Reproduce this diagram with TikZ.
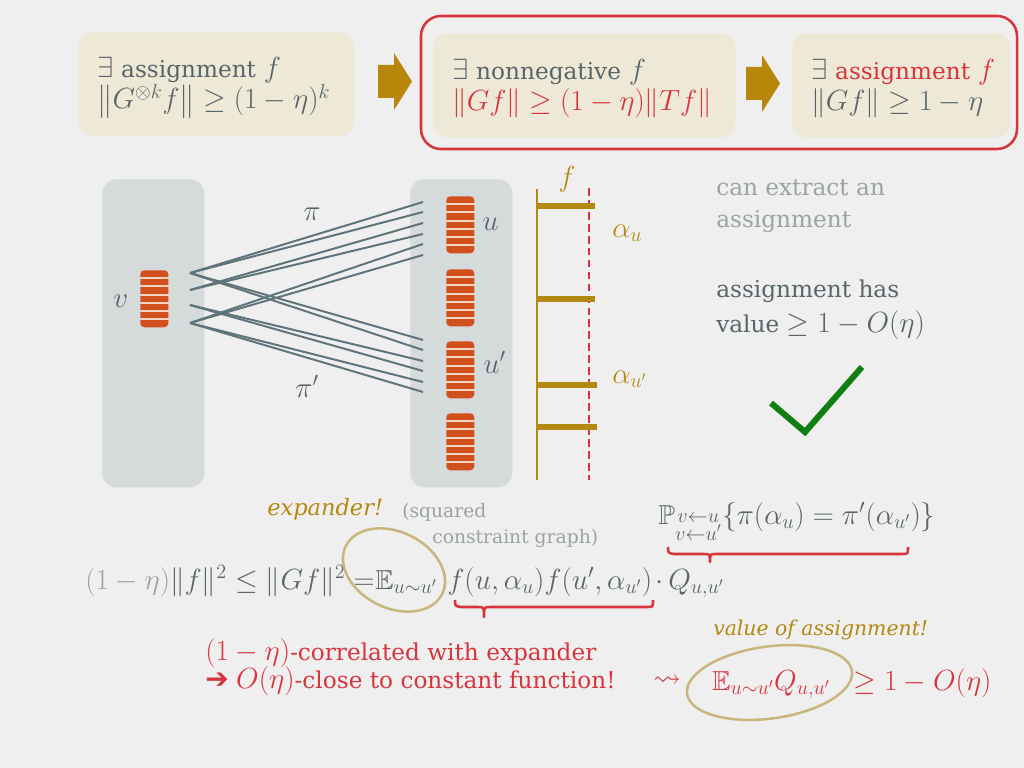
\documentclass[tikz,border=0pt]{standalone}
\usepackage{amsmath}
\usepackage{amssymb}
\usepackage{fontspec}
\setmainfont{DejaVu Serif}
\newfontfamily\arrowfont{DejaVu Sans}
\usetikzlibrary{calc}

\definecolor{slidebg}{HTML}{EFEFEF}
\definecolor{boxbeige}{HTML}{EEE8D6}
\definecolor{panelgray}{HTML}{D5DBDB}
\definecolor{ladderorange}{HTML}{D24F1E}
\definecolor{stripecol}{HTML}{F1D5C0}
\definecolor{edgecol}{HTML}{5E737A}
\definecolor{textgray}{HTML}{586569}
\definecolor{softgray}{HTML}{9AA3A3}
\definecolor{alertred}{HTML}{D8343C}
\definecolor{dashred}{HTML}{E0303F}
\definecolor{goldtext}{HTML}{B28A12}
\definecolor{goldblock}{HTML}{B8860B}
\definecolor{ringcol}{HTML}{C8B77D}
\definecolor{checkgreen}{HTML}{0F7F12}

\newcommand{\mth}[1]{{\fontsize{19.5}{22.5}\selectfont$#1$}}

\begin{document}
\begin{tikzpicture}[x=0.025cm,y=-0.025cm,
    every node/.style={font=\fontsize{16.5}{22.5}\selectfont},
    topbox/.style={rectangle,rounded corners=0.35cm,fill=boxbeige,text=textgray,
      align=left,inner xsep=0.475cm,inner ysep=0pt,minimum height=2.6cm,anchor=north west},
    panel/.style={rectangle,rounded corners=0.35cm,fill=panelgray,
      minimum width=2.55cm,minimum height=7.7cm,anchor=north west},
    ladder/.style={rectangle,rounded corners=0.1cm,fill=ladderorange,
      minimum width=0.7cm,minimum height=1.425cm,inner sep=0pt,anchor=north west},
    stripe/.style={draw=stripecol,line width=1.4pt},
    link/.style={draw=edgecol,line width=1.4pt},
    txt/.style={inner sep=0pt,anchor=base west,text=textgray},
    mathlbl/.style={txt,font=\fontsize{19.5}{22.5}\selectfont},
    note/.style={txt,text=softgray,font=\fontsize{13.3}{16}\selectfont},
    redframe/.style={draw=alertred,line width=1.8pt,rounded corners=0.5cm},
    faxis/.style={draw=goldtext,line width=1.1pt},
    fbar/.style={draw=goldtext,line width=4.3pt},
    cutline/.style={draw=dashred,line width=1.3pt,dash pattern=on 5.5pt off 3pt},
    ringmark/.style={draw=ringcol,line width=1.8pt},
    redbrace/.style={draw=alertred,line width=1.8pt,line join=round},
    checkmark/.style={draw=checkgreen,line width=4.3pt}]

    % background
    \useasboundingbox (0,0) rectangle (1024,768);
    \fill[slidebg] (0,0) rectangle (1024,768);

    % top row of statements
    \node[topbox,text width=5.95cm] (tensor) at (78,32)
      {\mbox{\rule{0pt}{19pt}\mth{\exists} assignment \mth{f}}\\ \mbox{\mth{\left\|G^{\otimes k}f\right\|\ge(1-\eta)^k}}};
    \node[topbox,text width=6.6cm] (nonneg) at (433,33)
      {\mbox{\rule{0pt}{19pt}\mth{\exists} nonnegative \mth{f}}\\ \mbox{\textcolor{alertred}{\mth{\|Gf\|\ge(1-\eta)\|Tf\|}}}};
    \node[topbox,text width=4.5cm] (assign) at (792,33)
      {\mbox{\rule{0pt}{19pt}\mth{\exists} \textcolor{alertred}{assignment \mth{f}}}\\ \mbox{\mth{\|Gf\|\ge 1-\eta}}};
    \draw[redframe] (421,16) rectangle (1017,149);
    \foreach \ax/\ay in {378/53,746/55}
      \fill[goldblock] (\ax,\ay+12) -- ++(16,0) -- ++(0,-12) -- ++(18,28.5)
        -- ++(-18,28.5) -- ++(0,-12) -- ++(-16,0) -- cycle;

    % constraint graph
    \node[panel] (vpanel) at (102,179) {};
    \node[panel] (upanel) at (410,179) {};
    \node[ladder] (v) at (140,270) {};
    \foreach \n/\y in {u/196,u2/269,up/341,u4/413}
      \node[ladder] (\n) at (446,\y) {};
    \foreach \n in {v,u,u2,up,u4}
      \foreach \i in {1,...,6}
        \draw[stripe] ($(\n.north west)!\i/7!(\n.south west)$) -- ($(\n.north east)!\i/7!(\n.south east)$);

    % label maps pi and pi'
    \foreach \n/\y in {vA/273,vB/290,vC/305,vD/323}
      \coordinate (\n) at (190,\y);
    \foreach \i/\y/\z in {1/202/340,2/212/350,3/223/361,4/234/371,5/244/382,6/255/392} {
      \coordinate (t\i) at (423,\y);
      \coordinate (b\i) at (423,\z);
    }
    \foreach \a/\b in {vA/t1,vA/t2,vA/b1,vA/b2,vB/t3,vB/t4,vC/b3,vC/b4,vD/t5,vD/t6,vD/b5,vD/b6}
      \draw[link] (\a) -- (\b);

    \node[mathlbl] (vlbl) at (113,307) {$v$};
    \node[mathlbl] (pilbl) at (303,220) {$\pi$};
    \node[mathlbl] (piplbl) at (295,397) {$\pi'$};
    \node[mathlbl] (ulbl) at (482,230) {$u$};
    \node[mathlbl] (uplbl) at (483,373) {$u'$};

    % the function f
    \coordinate (ftop) at (537,189);
    \coordinate (fbot) at (537,480);
    \draw[faxis] (ftop) -- (fbot);
    \draw[cutline] (589,188) -- (589,480);
    \foreach \y/\e in {206/595,299/595,385/597,427/597}
      \draw[fbar] (537,\y) -- (\e,\y);
    \node[mathlbl,text=goldtext] (flbl) at (558,186) {$f$};
    \node[mathlbl,text=goldtext] (aulbl) at (612,237) {$\alpha_u$};
    \node[mathlbl,text=goldtext] (auplbl) at (612,383) {$\alpha_{u'}$};

    % remarks on the right
    \node[txt,text=softgray] (extract1) at (716,195) {can extract an};
    \node[txt,text=softgray] (extract2) at (716,227) {assignment};
    \node[txt] (value1) at (716,297) {assignment has};
    \node[txt] (value2) at (716,332) {value \mth{\ge 1-O(\eta)}};
    \draw[checkmark] (771,403) -- (805,432) -- (862,367);

    % the computation
    \node[txt,font=\itshape\fontsize{16}{20}\selectfont,text=goldtext] (expander) at (267,515) {expander!};
    \node[note] (squared1) at (402,517) {(squared};
    \node[note] (squared2) at (432,543) {constraint graph)};
    \node[mathlbl] (prob) at (658,524)
      {$\mathbb{P}_{\substack{v\leftarrow u\\ v\leftarrow u'}}\{\pi(\alpha_u)=\pi'(\alpha_{u'})\}$};
    \node[mathlbl] (lhs) at (85,589) {$\textcolor{softgray}{(1-\eta)}\|f\|^2\le\|Gf\|^2=$};
    \node[mathlbl] (expect) at (375,589) {$\mathbb{E}_{u\sim u'}$};
    \node[mathlbl] (ffpart) at (447,589) {$f(u,\alpha_u)f(u',\alpha_{u'})$};
    \node[mathlbl] (qpart) at (655,589) {$\cdot\,Q_{u,u'}$};
    \draw[ringmark,rotate around={-26.5:(394,570)}] (394,570) ellipse [x radius=1.345cm,y radius=0.95cm];
    \draw[redbrace] (668,547) .. controls (668,553) .. (674,554) -- (704,554)
      .. controls (710,554) .. (710,562) .. controls (710,554) .. (716,554)
      -- (902,554) .. controls (908,554) .. (908,547);
    \draw[redbrace] (455,600) .. controls (455,606) .. (461,607) -- (478,607)
      .. controls (484,607) .. (484,617) .. controls (484,607) .. (490,607)
      -- (647,607) .. controls (653,607) .. (653,600);

    % conclusion
    \node[txt,font=\itshape\fontsize{14.5}{18}\selectfont,text=goldtext] (valnote) at (713,635) {value of assignment!};
    \node[txt,text=alertred] (corr1) at (205,660) {\mth{(1-\eta)}-correlated with expander};
    \node[txt,text=alertred] (corr2) at (205,688)
      {{\arrowfont\fontsize{20}{22}\selectfont ➔} \mth{O(\eta)}-close to constant function!};
    \node[mathlbl,text=alertred] (squig) at (653,686) {$\rightsquigarrow$};
    \node[mathlbl,text=alertred] (evalue) at (712,690) {$\mathbb{E}_{u\sim u'}Q_{u,u'}$};
    \node[mathlbl,text=alertred] (bound) at (853,690) {$\ge 1-O(\eta)$};
    \draw[ringmark,rotate around={7.8:(769.5,682.5)}] (769.5,682.5) ellipse [x radius=2.08cm,y radius=0.9cm];
\end{tikzpicture}
\end{document}
